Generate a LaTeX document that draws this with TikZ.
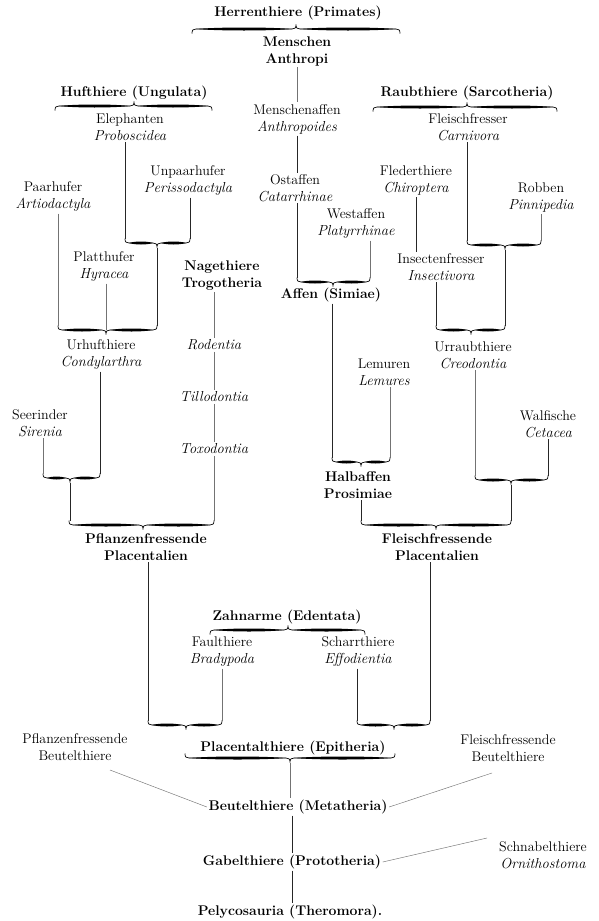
\documentclass[tikz,border=0pt]{standalone}
\usepackage{fontspec}
\newcommand\Brc[6]{% name, x1, x2, y, xm, s (1 = tip down, -1 = tip up)
  \coordinate (#1-l) at ({#2},{#4-4*(#6)});
  \coordinate (#1-r) at ({#3},{#4-4*(#6)});
  \coordinate (#1-t) at ({#5},{#4+4.5*(#6)});
  \coordinate (#1-c) at ({#5},{#4});
  \draw[brthin] ({#2},{#4-4.5*(#6)}) .. controls ({#2},{#4-1*(#6)}) and ({#2+1},{#4}) .. ({#2+4},{#4}) -- ({#5-4},{#4})
     .. controls ({#5-1},{#4}) and ({#5},{#4+1*(#6)}) .. ({#5},{#4+4.5*(#6)})
     .. controls ({#5},{#4+1*(#6)}) and ({#5+1},{#4}) .. ({#5+4},{#4}) -- ({#3-4},{#4})
     .. controls ({#3-1},{#4}) and ({#3},{#4-1*(#6)}) .. ({#3},{#4-4.5*(#6)});
  \fill ({#2+4},{#4}) .. controls ({#2+4+(#5-#2-8)/4},{#4-2}) and ({#5-4-(#5-#2-8)/4},{#4-2}) .. ({#5-4},{#4})
     .. controls ({#5-4-(#5-#2-8)/4},{#4+2}) and ({#2+4+(#5-#2-8)/4},{#4+2}) .. cycle;
  \fill ({#5+4},{#4}) .. controls ({#5+4+(#3-#5-8)/4},{#4-2}) and ({#3-4-(#3-#5-8)/4},{#4-2}) .. ({#3-4},{#4})
     .. controls ({#3-4-(#3-#5-8)/4},{#4+2}) and ({#5+4+(#3-#5-8)/4},{#4+2}) .. cycle;
}
\newcommand\ti[1]{{\fontsize{14.5}{17}\selectfont\itshape #1}}
\begin{document}
\begin{tikzpicture}[x=1pt,y=-1pt,
  rg/.style={font=\fontsize{14}{17}\selectfont, align=center, inner sep=1.5pt},
  bd/.style={font=\fontsize{14}{17}\selectfont\bfseries, align=center, inner sep=1.5pt},
  it/.style={font=\fontsize{14.5}{17}\selectfont\itshape, align=center, inner sep=1.5pt},
  ln/.style={line width=0.6pt, black!85},
  fl/.style={line width=0.45pt, black!55},
  brthin/.style={line width=0.7pt}]
\fill[white] (0,0) rectangle (598,921);
\useasboundingbox (0,0) rectangle (598,921);

% ---------- nodes ----------
\node[bd] (prim) at (298,13) {Herrenthiere (Primates)};
\node[bd] (menschen) at (297,51) {Menschen\\Anthropi};
\node[rg] (manaffen) at (297,119) {Menschenaffen\\\ti{Anthropoides}};
\node[rg] (ostaffen) at (295,188) {Ostaffen\\\ti{Catarrhinae}};
\node[rg] (westaffen) at (356,224) {Westaffen\\\ti{Platyrrhinae}};
\node[bd] (affen) at (331,295) {Affen (Simiae)};

\node[bd] (huf) at (134,93) {Hufthiere (Ungulata)};
\node[rg] (eleph) at (130,127) {Elephanten\\\ti{Proboscidea}};
\node[rg] (unpaar) at (188,181) {Unpaarhufer\\\ti{Perissodactyla}};
\node[rg] (paar) at (53,197) {Paarhufer\\\ti{Artiodactyla}};
\node[rg] (platt) at (104,267) {Platthufer\\\ti{Hyracea}};
\node[rg] (urhuf) at (101,355) {Urhufthiere\\\ti{Condylarthra}};
\node[rg] (seerind) at (40,423) {Seerinder\\\ti{Sirenia}};
\node[bd] (nage) at (222,276) {Nagethiere\\Trogotheria};
\node[it] (rodentia) at (214,345) {Rodentia};
\node[it] (tillo) at (214,397) {Tillodontia};
\node[it] (toxo) at (214,449) {Toxodontia};
\node[bd] (pflpl) at (146,547) {Pflanzenfressende\\Placentalien};

\node[bd] (raub) at (467,93) {Raubthiere (Sarcotheria)};
\node[rg] (fleischfr) at (468,127) {Fleischfresser\\\ti{Carnivora}};
\node[rg] (fleder) at (416,181) {Flederthiere\\\ti{Chiroptera}};
\node[rg] (robben) at (541,198) {Robben\\\ti{Pinnipedia}};
\node[rg] (insect) at (441,267) {Insectenfresser\\\ti{Insectivora}};
\node[rg] (urraub) at (473,355) {Urraubthiere\\\ti{Creodontia}};
\node[rg] (lemur) at (384,372) {Lemuren\\\ti{Lemures}};
\node[rg] (walf) at (548,424) {Walfische\\\ti{Cetacea}};
\node[bd] (halb) at (358,485) {Halbaffen\\Prosimiae};
\node[bd] (flpl) at (437,547) {Fleischfressende\\Placentalien};

\node[bd] (zahn) at (287,617) {Zahnarme (Edentata)};
\node[rg] (faul) at (222,652) {Faulthiere\\\ti{Bradypoda}};
\node[rg] (scharr) at (358,652) {Scharrthiere\\\ti{Effodientia}};
\node[bd] (placth) at (293,748) {Placentalthiere (Epitheria)};
\node[rg] (pfbeut) at (75,747) {Pflanzenfressende\\Beutelthiere};
\node[rg] (flbeut) at (508,748) {Fleischfressende\\Beutelthiere};
\node[bd] (beut) at (298,807) {Beutelthiere (Metatheria)};
\node[bd] (gabel) at (292,862) {Gabelthiere (Prototheria)};
\node[rg] (schnab) at (543,855) {Schnabelthiere\\\ti{Ornithostoma}};
\node[bd] (pely) at (290,912) {Pelycosauria (Theromora).};

% ---------- braces ----------
\Brc{hb}{192}{400}{29}{296}{-1}
\Brc{huf}{55}{212}{106}{134}{-1}
\Brc{rau}{373}{557}{107}{467}{-1}
\Brc{zb}{210}{365}{630}{288}{-1}
\Brc{ub}{125}{190}{243}{157}{1}
\Brc{rb}{467}{541}{245}{505}{1}
\Brc{sim}{297}{370}{282}{333}{1}
\Brc{uh}{58}{157}{330}{106}{1}
\Brc{ur}{436}{505}{330}{471}{1}
\Brc{sb}{43}{100}{478}{70}{1}
\Brc{wal}{475}{548}{480}{511}{1}
\Brc{hal}{332}{390}{462}{361}{1}
\Brc{pb}{69}{214}{525}{143}{1}
\Brc{fb}{361}{511}{525}{436}{1}
\Brc{pl}{148}{222}{725}{186}{1}
\Brc{pr}{357}{430}{725}{394}{1}
\Brc{eb}{185}{395}{758}{290}{1}

% ---------- connectors ----------
\draw[fl] (menschen.south) -- (menschen.south |- manaffen.north);
\draw[ln] (manaffen.south) -- (manaffen.south |- ostaffen.north);
\draw[ln] (sim-l |- ostaffen.south) -- (sim-l);
\draw[fl] (sim-r |- westaffen.south) -- (sim-r);
\draw[ln] (hal-l |- affen.south) -- (hal-l);
\draw[fl] (hal-r |- lemur.south) -- (hal-r);
\draw[ln] (fb-l |- halb.south) -- (fb-l);

\draw[ln] (ub-l |- eleph.south) -- (ub-l);
\draw[ln] (ub-r |- unpaar.south) -- (ub-r);
\draw[ln] (ub-t) -- (uh-r);
\draw[fl] (uh-l |- paar.south) -- (uh-l);
\draw[fl] (platt.south -| uh-c) -- (uh-c);
\draw[ln] (sb-r |- urhuf.south) -- (sb-r);
\draw[fl] (sb-l |- seerind.south) -- (sb-l);
\draw[ln] (sb-t) -- (sb-t |- pb-l);
\draw[fl] (rodentia.north |- nage.south) -- (rodentia.north);
\draw[fl] (rodentia.south) -- (tillo.north);
\draw[fl] (tillo.south) -- (toxo.north);
\draw[fl] (pb-r |- toxo.south) -- (pb-r);
\draw[ln] (pl-l |- pflpl.south) -- (pl-l);
\draw[fl] (pl-r |- faul.south) -- (pl-r);

\draw[ln] (rb-l |- fleischfr.south) -- (rb-l);
\draw[fl] (rb-r |- robben.south) -- (rb-r);
\draw[ln] (rb-t) -- (ur-r);
\draw[ln] (fleder.south) -- (fleder.south |- insect.north);
\draw[ln] (ur-l |- insect.south) -- (ur-l);
\draw[fl] (wal-l |- urraub.south) -- (wal-l);
\draw[ln] (wal-r |- walf.south) -- (wal-r);
\draw[ln] (wal-t) -- (wal-t |- fb-r);
\draw[ln] (pr-l |- scharr.south) -- (pr-l);
\draw[ln] (pr-r |- flpl.south) -- (pr-r);

\draw[fl] (eb-t) -- (eb-t |- beut.north);
\draw[ln] (gabel.north |- beut.south) -- (gabel.north);
\draw[ln] (gabel.south) -- (gabel.south |- pely.north);
\coordinate (pfb-end) at (110,770);
\coordinate (flb-end) at (492,773);
\coordinate (snb-end) at (487,838);
\draw[fl] (pfb-end) -- (beut.west);
\draw[fl] (flb-end) -- (beut.east);
\draw[fl] (snb-end) -- (gabel.east);
\end{tikzpicture}
\end{document}
